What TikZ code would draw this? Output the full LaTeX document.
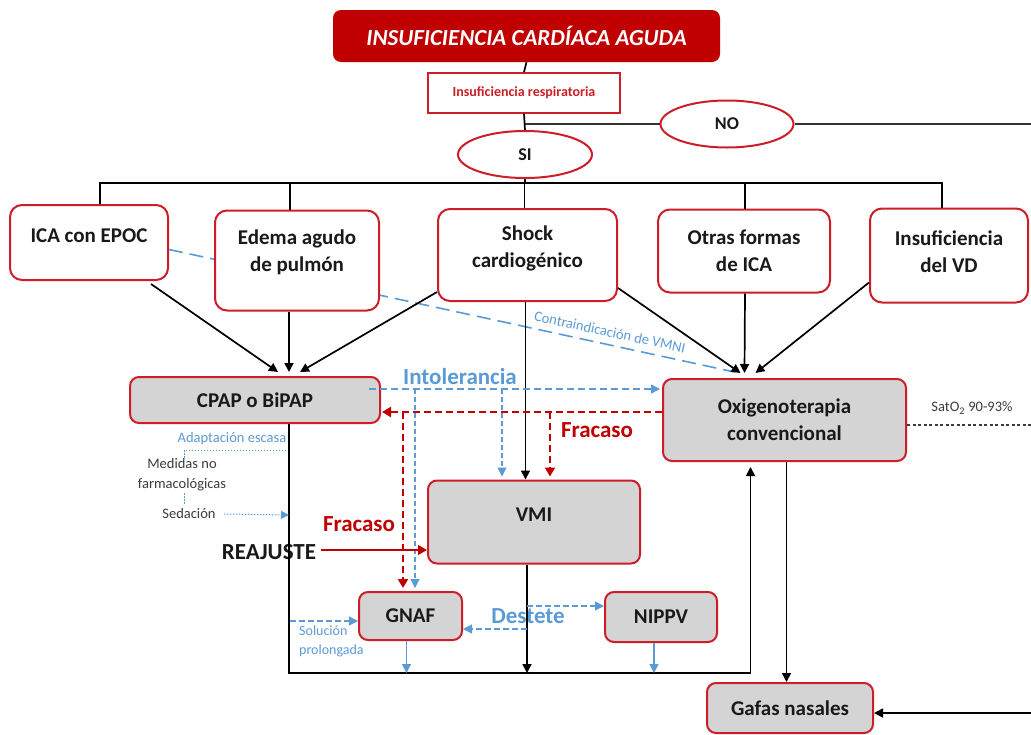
\documentclass[tikz,border=0pt]{standalone}
\usepackage{fontspec}
\setmainfont{Carlito}
\usetikzlibrary{arrows.meta,shapes.geometric,backgrounds}
\definecolor{dred}{RGB}{192,0,0}
\definecolor{bred}{RGB}{205,30,40}
\definecolor{lblue}{RGB}{91,155,213}
\definecolor{gbox}{RGB}{212,212,212}
\definecolor{txt}{RGB}{25,25,25}
\definecolor{gtxt}{RGB}{60,60,60}
\begin{document}
\begin{tikzpicture}[x=1pt,y=-1pt,
 wbox/.style={draw=bred,line width=2pt,fill=white,rounded corners=12pt,align=center,font=\fontsize{21}{27}\selectfont\bfseries,text=txt,inner sep=0pt},
 gbx/.style={wbox,fill=gbox,rounded corners=9pt},
 ell/.style={ellipse,draw=bred,line width=2pt,fill=white,font=\fontsize{18}{20}\selectfont\bfseries,text=txt,inner sep=0pt},
 blk/.style={line width=1.7pt,draw=black},
 arr/.style={blk,-{Triangle[width=9pt,length=9pt]}},
 bdash/.style={draw=lblue,line width=1.4pt,dash pattern=on 7pt off 4pt},
 barr/.style={bdash,-{Triangle[width=9pt,length=9pt]}},
 rdash/.style={draw=dred,line width=2pt,dash pattern=on 7pt off 4pt},
 rarr/.style={rdash,-{Triangle[width=10pt,length=9pt]}},
 bsol/.style={draw=lblue,line width=1.2pt,-{Triangle[width=9pt,length=9pt]}},
 dots/.style={draw=lblue,line width=1pt,dash pattern=on 1.5pt off 1.5pt},
 lbl/.style={inner sep=0pt,font=\fontsize{14.5}{16}\selectfont,text=gtxt},
 big/.style={inner sep=0pt,font=\fontsize{23}{25}\selectfont\bfseries},
]
\useasboundingbox (0,0) rectangle (1031,734);

% nodes
\node[fill=dred,rounded corners=8pt,minimum width=387pt,minimum height=52pt,text=white,font=\fontsize{23}{25}\selectfont\bfseries\itshape] (title) at (526.5,36) {INSUFICIENCIA CARDÍACA AGUDA};
\node[draw=bred,line width=1.8pt,fill=white,minimum width=192pt,minimum height=40pt,text=bred,font=\fontsize{14}{16}\selectfont\bfseries] (resp) at (524,93) {Insuficiencia respiratoria};
\node[ell,minimum width=133pt,minimum height=47pt] (no) at (727,124) {NO};
\node[ell,minimum width=134pt,minimum height=47pt] (si) at (525,154.5) {SI};

\node[wbox,minimum width=158pt,minimum height=75pt,text depth=14pt] (epoc) at (89,242.5) {ICA con EPOC};
\node[wbox,minimum width=164pt,minimum height=100pt,text depth=20pt] (edema) at (297,260.5) {Edema agudo\\de pulmón};
\node[wbox,minimum width=179pt,minimum height=92pt,text depth=16pt] (shock) at (527.5,255) {Shock\\cardiogénico};
\node[wbox,minimum width=172pt,minimum height=83pt] (otras) at (744,251) {Otras formas\\de ICA};
\node[wbox,minimum width=158pt,minimum height=94pt,text depth=8pt] (insvd) at (949,255.5) {Insuficiencia\\del VD};

\node[gbx,minimum width=250pt,minimum height=46pt] (cpap) at (255,400) {CPAP o BiPAP};
\node[gbx,minimum width=243pt,minimum height=82pt] (oxi) at (784.5,420) {Oxigenoterapia\\convencional};
\node[gbx,minimum width=212pt,minimum height=83pt,text depth=14pt] (vmi) at (534,522) {VMI};
\node[gbx,minimum width=103pt,minimum height=48pt] (gnaf) at (410.5,616) {GNAF};
\node[gbx,minimum width=112pt,minimum height=50pt] (nippv) at (661,617) {NIPPV};
\node[gbx,minimum width=166pt,minimum height=50pt] (gafas) at (790,708) {Gafas nasales};

% labels
\node[big,text=lblue] (intol) at (460,377) {Intolerancia};
\node[big,text=dred] (frac1) at (597,430) {Fracaso};
\node[big,text=dred] (frac2) at (359,524) {Fracaso};
\node[inner sep=0pt,font=\fontsize{23}{25}\selectfont\bfseries,text=txt] (reaj) at (269,552) {REAJUSTE};
\node[lbl,text=lblue] (adapt) at (232,439) {Adaptación escasa};
\node[lbl,align=center,font=\fontsize{14.5}{20}\selectfont] (medidas) at (182,475) {Medidas no\\farmacológicas};
\node[lbl] (sed) at (189,514) {Sedación};
\node[lbl,text=lblue,align=left,anchor=west,font=\fontsize{14}{19}\selectfont] (sol) at (299,641) {Solución\\prolongada};
\node[big,text=lblue] (destete) at (528,616) {Destete};
\node[inner sep=0pt,font=\fontsize{14.5}{16}\selectfont,text=gtxt] (sat) at (972,408) {SatO\textsubscript{2} 90-93\%};

% background: white page and the long dashed connector
\coordinate (cend) at ([xshift=-50,yshift=6]oxi.north);
\begin{scope}[on background layer]
\fill[white] (0,0) rectangle (1031,734);
\draw[draw=lblue,line width=1.6pt,dash pattern=on 14pt off 7pt] ([yshift=-7]epoc.east) -- (cend)
  node[pos=0.775,sloped,above=7pt,inner sep=0pt,font=\fontsize{14.5}{16}\selectfont,text=lblue] (contra) {Contraindicación de VMNI};
\end{scope}

% top connectors
\coordinate (bar) at (525,183);
\coordinate (nofork) at (525,124);
\coordinate (noend) at (1031,124);
\draw[blk] (title.south) -- (resp.north);
\draw[blk] (resp.south) -- (si.north);
\draw[blk] (si.south) -- (bar);
\draw[line width=2.6pt,draw=black!80] (nofork) -- (no.west);
\draw[line width=2.6pt,draw=black!80] (no.east) -- (noend);
\draw[blk] ([xshift=11]epoc.north) |- (bar) -| ([xshift=-7]insvd.north);
\draw[blk] ([xshift=-7]edema.north) -- ([xshift=-7]edema.north |- bar);
\draw[blk] ([xshift=-3]shock.north) -- ([xshift=-3]shock.north |- bar);
\draw[blk] ([xshift=1]otras.north) -- ([xshift=1]otras.north |- bar);

% to CPAP
\draw[arr] ([xshift=62,yshift=-3]epoc.south) -- ([xshift=23,yshift=4]cpap.north);
\draw[arr] ([xshift=-8]edema.south) -- ([xshift=34,yshift=4]cpap.north);
\draw[arr] ([yshift=-37]shock.west) -- ([xshift=45,yshift=4]cpap.north);
% to Oxi
\draw[arr] ([yshift=14]shock.south east) -- ([xshift=-44,yshift=5]oxi.north);
\draw[arr] ([xshift=1]otras.south) -- ([xshift=-40,yshift=5]oxi.north);
\draw[arr] ([yshift=21]insvd.south west) -- ([xshift=-29,yshift=5]oxi.north);
% shock to VMI
\draw[arr] ([xshift=-2]shock.south) -- ([xshift=-2]shock.south |- vmi.north);

% Intolerancia (blue)
\coordinate (ib1) at (415,389);
\coordinate (ib2) at (502,389);
\draw[barr,shorten >=2pt] ([xshift=-12,yshift=11]cpap.east) -- ([yshift=31]oxi.west);
\draw[barr,line width=1.1pt,dash pattern=on 5pt off 3pt] (ib1) -- ([yshift=3]ib1 |- gnaf.north);
\draw[barr,line width=1.1pt,dash pattern=on 5pt off 3pt] (ib2) -- ([yshift=3]ib2 |- vmi.north);

% Fracaso (red)
\coordinate (rb1) at (403,412);
\coordinate (rb2) at (550,412);
\draw[rarr,shorten >=1pt] ([yshift=8]oxi.west) -- ([yshift=-12]cpap.east);
\draw[rarr] (rb1) -- ([yshift=3]rb1 |- gnaf.north);
\draw[rarr] (rb2) -- ([yshift=3]rb2 |- vmi.north);

% frame back to Oxi
\coordinate (frameR) at (750.5,673);
\draw[arr,shorten >=5pt] ([xshift=34]cpap.south) |- (frameR) -- ([xshift=-34]oxi.south);
\draw[arr] ([xshift=-7]vmi.south) -- ([xshift=-7]vmi.south |- frameR);
\draw[bsol] ([xshift=-4]gnaf.south) -- ([xshift=-4]gnaf.south |- frameR);
\draw[bsol] ([xshift=-7]nippv.south) -- ([xshift=-7]nippv.south |- frameR);

% Destete and Solucion
\coordinate (d1) at (527,629);
\coordinate (d2) at (527,606);
\coordinate (s1) at (290,621);
\draw[barr,line width=1.2pt,dash pattern=on 6pt off 3pt] (d1) -- (d1 -| gnaf.east);
\draw[barr,line width=1.2pt,dash pattern=on 6pt off 3pt] (d2) -- (d2 -| nippv.west);
\draw[barr,line width=1.2pt,dash pattern=on 6pt off 3pt] (s1) -- (s1 -| gnaf.west);

% Oxi to gafas
\coordinate (gin) at (1031,713);
\draw[arr] ([xshift=2]oxi.south) -- ([xshift=2]oxi.south |- gafas.north);
\draw[arr] (gin) -- (gin -| gafas.east);

% SatO2
\coordinate (satend) at (1031,425);
\draw[draw=gtxt,line width=1.2pt,dash pattern=on 3pt off 2.5pt] ([yshift=-5]oxi.east) -- (satend);

% REAJUSTE
\draw[draw=dred,line width=1.3pt,-{Triangle[width=10pt,length=9pt]}] ([xshift=5,yshift=2]reaj.east) -- ([yshift=2]reaj.east -| vmi.west);

% adaptacion dotted
\coordinate (a1) at (286,450);
\coordinate (a2) at (184,458);
\coordinate (a3) at (184,493);
\coordinate (a4) at (184,504);
\coordinate (sedt) at (289,515);
\draw[dots] (a1) -| (a2);
\draw[dots] (a3) -- (a4);
\draw[dots,-{Triangle[width=8pt,length=8pt]}] ([xshift=8]sed.east) -- (sedt);
\end{tikzpicture}
\end{document}
